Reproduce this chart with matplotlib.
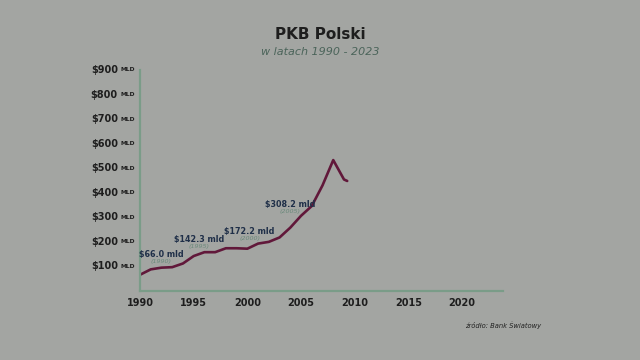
import matplotlib.pyplot as plt

# PKB Polski, mld USD
years = [1990, 1991, 1992, 1993, 1994, 1995, 1996, 1997, 1998, 1999,
         2000, 2001, 2002, 2003, 2004, 2005, 2006, 2007, 2008, 2009, 2009.3]
gdp = [66.0, 88, 95, 97, 112, 142.3, 158, 158, 174, 174,
       172.2, 193, 200, 218, 258, 306.2, 346, 430, 533, 454, 448]

label_years = [1990, 1995, 2000, 2005]
label_vals = ['$66.0 mld', '$142.3 mld', '$172.2 mld', '$308.2 mld']
label_x = [1992.0, 1995.5, 2000.2, 2004.0]
label_y = [148, 210, 242, 354]

yticks = [100, 200, 300, 400, 500, 600, 700, 800, 900]
xticks = [1990, 1995, 2000, 2005, 2010, 2015, 2020]

bg = '#a3a5a2'
axis_col = '#7a9c88'
line_col = '#61183a'

fig = plt.figure(figsize=(6.4, 3.6), dpi=100, facecolor=bg)
ax = fig.add_axes([0.21875, 0.1917, 0.567, 0.614])
ax.set_facecolor(bg)

ax.plot(years, gdp, color=line_col, lw=1.9, solid_capstyle='round', solid_joinstyle='round')

ax.set_xlim(1990, 2023.8)
ax.set_ylim(0, 900)

for s in ['top', 'right']:
    ax.spines[s].set_visible(False)
for s in ['left', 'bottom']:
    ax.spines[s].set_color(axis_col)
    ax.spines[s].set_linewidth(1.6)

ax.set_xticks(xticks)
ax.set_xticklabels([str(x) for x in xticks], fontsize=7, fontweight='bold', color='#1e1e1e')
ax.tick_params(axis='x', length=0, pad=5)
ax.set_yticks(yticks)
ax.set_yticklabels([])
ax.tick_params(axis='y', length=0)

ytr = ax.get_yaxis_transform()
for v in yticks:
    ax.text(-0.061, v, '$%d' % v, transform=ytr, ha='right', va='center',
            fontsize=7, fontweight='bold', color='#1e1e1e')
    ax.text(-0.014, v, 'MLD', transform=ytr, ha='right', va='center',
            fontsize=4.3, fontweight='bold', color='#1e1e1e')

for yr, txt, lx, ly in zip(label_years, label_vals, label_x, label_y):
    ax.text(lx, ly, txt, ha='center', va='center', fontsize=5.8,
            fontweight='bold', color='#1f2f48')
    ax.text(lx, ly - 29, '(%d)' % yr, ha='center', va='center', fontsize=4.6,
            style='italic', color='#6a8a7b')

fig.text(0.5, 0.905, 'PKB Polski', ha='center', va='center', fontsize=11,
         fontweight='bold', color='#1e1e1e')
fig.text(0.5, 0.856, 'w latach 1990 - 2023', ha='center', va='center', fontsize=8,
         style='italic', color='#4b645a')
fig.text(0.786, 0.096, 'źródło: Bank Światowy', ha='center', va='center', fontsize=4.9,
         style='italic', color='#222222')

fig.savefig('out.png', dpi=100, facecolor=bg)
